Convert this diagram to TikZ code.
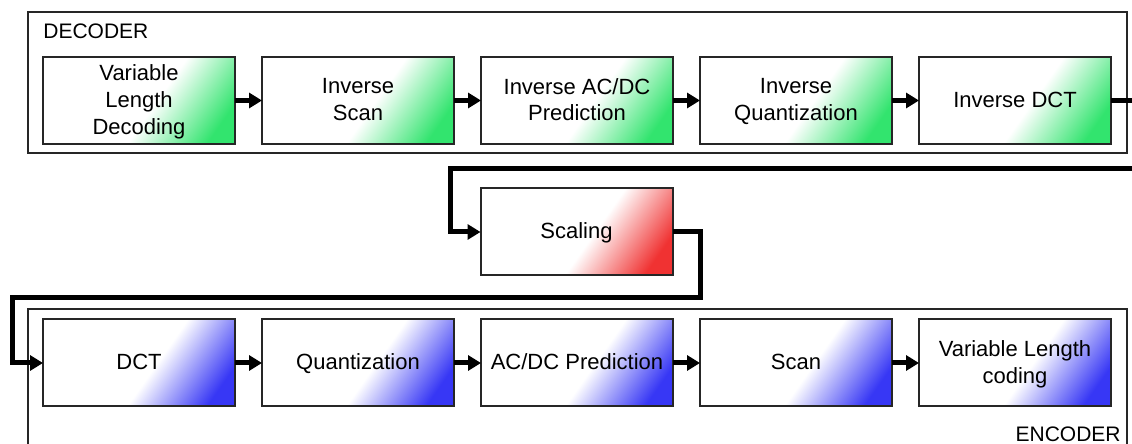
\documentclass[tikz,border=0pt]{standalone}
\usepackage{fontspec}
\setmainfont{Liberation Sans}
\usetikzlibrary{positioning, arrows.meta}

\definecolor{decgreen}{RGB}{50,228,110}
\definecolor{scalred}{RGB}{240,50,50}
\definecolor{encblue}{RGB}{55,55,245}

\pgfdeclarehorizontalshading{decshade}{100bp}{color(0bp)=(white); color(25bp)=(white); color(55bp)=(white); color(77bp)=(decgreen); color(100bp)=(decgreen)}
\pgfdeclarehorizontalshading{scalshade}{100bp}{color(0bp)=(white); color(25bp)=(white); color(55bp)=(white); color(77bp)=(scalred); color(100bp)=(scalred)}
\pgfdeclarehorizontalshading{encshade}{100bp}{color(0bp)=(white); color(25bp)=(white); color(55bp)=(white); color(77bp)=(encblue); color(100bp)=(encblue)}

\begin{document}
\begin{tikzpicture}[x=0.5pt, y=-0.5pt, node distance=13.5pt,
    % Styles
    stagebox/.style={draw=black!85, line width=1pt, shade, minimum width=96pt, minimum height=43.5pt, align=center, outer sep=0pt, text depth=1pt, font=\fontsize{11}{13.3}\selectfont},
    decbox/.style={stagebox, shading=decshade, shading angle=-35},
    scalbox/.style={stagebox, shading=scalshade, shading angle=-35},
    encbox/.style={stagebox, shading=encshade, shading angle=-35},
    stageframe/.style={draw=black!85, line width=1pt},
    framelabel/.style={inner sep=0pt, font=\fontsize{10.5}{12}\selectfont},
    flow/.style={line width=2.5pt, line join=miter, -{Triangle[length=6.5pt, width=7.5pt]}},
]
\clip (0,0) rectangle (1132,444);

% Frames
\draw[stageframe] (28,12) rectangle (1127,153);
\draw[stageframe] (28,309) rectangle (1127,470);
\node[framelabel, anchor=west] (declabel) at (43,31) {DECODER};
\node[framelabel, anchor=east] (enclabel) at (1121,434) {ENCODER};

% DECODER row
\node[decbox] (vld) at (139,100.5) {Variable\\Length\\Decoding};
\node[decbox, right=of vld] (iscan) {Inverse\\Scan};
\node[decbox, right=of iscan] (iacdc) {Inverse AC/DC\\Prediction};
\node[decbox, right=of iacdc] (iquant) {Inverse\\Quantization};
\node[decbox, right=of iquant] (idct) {Inverse DCT};

\foreach \a/\b in {vld/iscan, iscan/iacdc, iacdc/iquant, iquant/idct}
    \draw[flow] (\a) -- (\b);

% Scaling
\node[scalbox] (scal) at (576.5,232) {Scaling};

% ENCODER row
\node[encbox] (dct) at (139,363) {DCT};
\node[encbox, right=of dct] (quant) {Quantization};
\node[encbox, right=of quant] (acdc) {AC/DC Prediction};
\node[encbox, right=of acdc] (scan) {Scan};
\node[encbox, right=of scan] (vlc) {Variable Length\\coding};

\foreach \a/\b in {dct/quant, quant/acdc, acdc/scan, scan/vlc}
    \draw[flow] (\a) -- (\b);

% Loop between the rows
\coordinate (outR) at (1150,100.5);
\coordinate (topL) at (450,169);
\coordinate (midR) at (700,298);
\coordinate (midL) at (12,298);
\draw[flow] (idct.east) -- (outR) |- (topL) |- (scal.west);
\draw[flow] (scal.east) -| (midR) -- (midL) |- (dct.west);

\end{tikzpicture}
\end{document}
